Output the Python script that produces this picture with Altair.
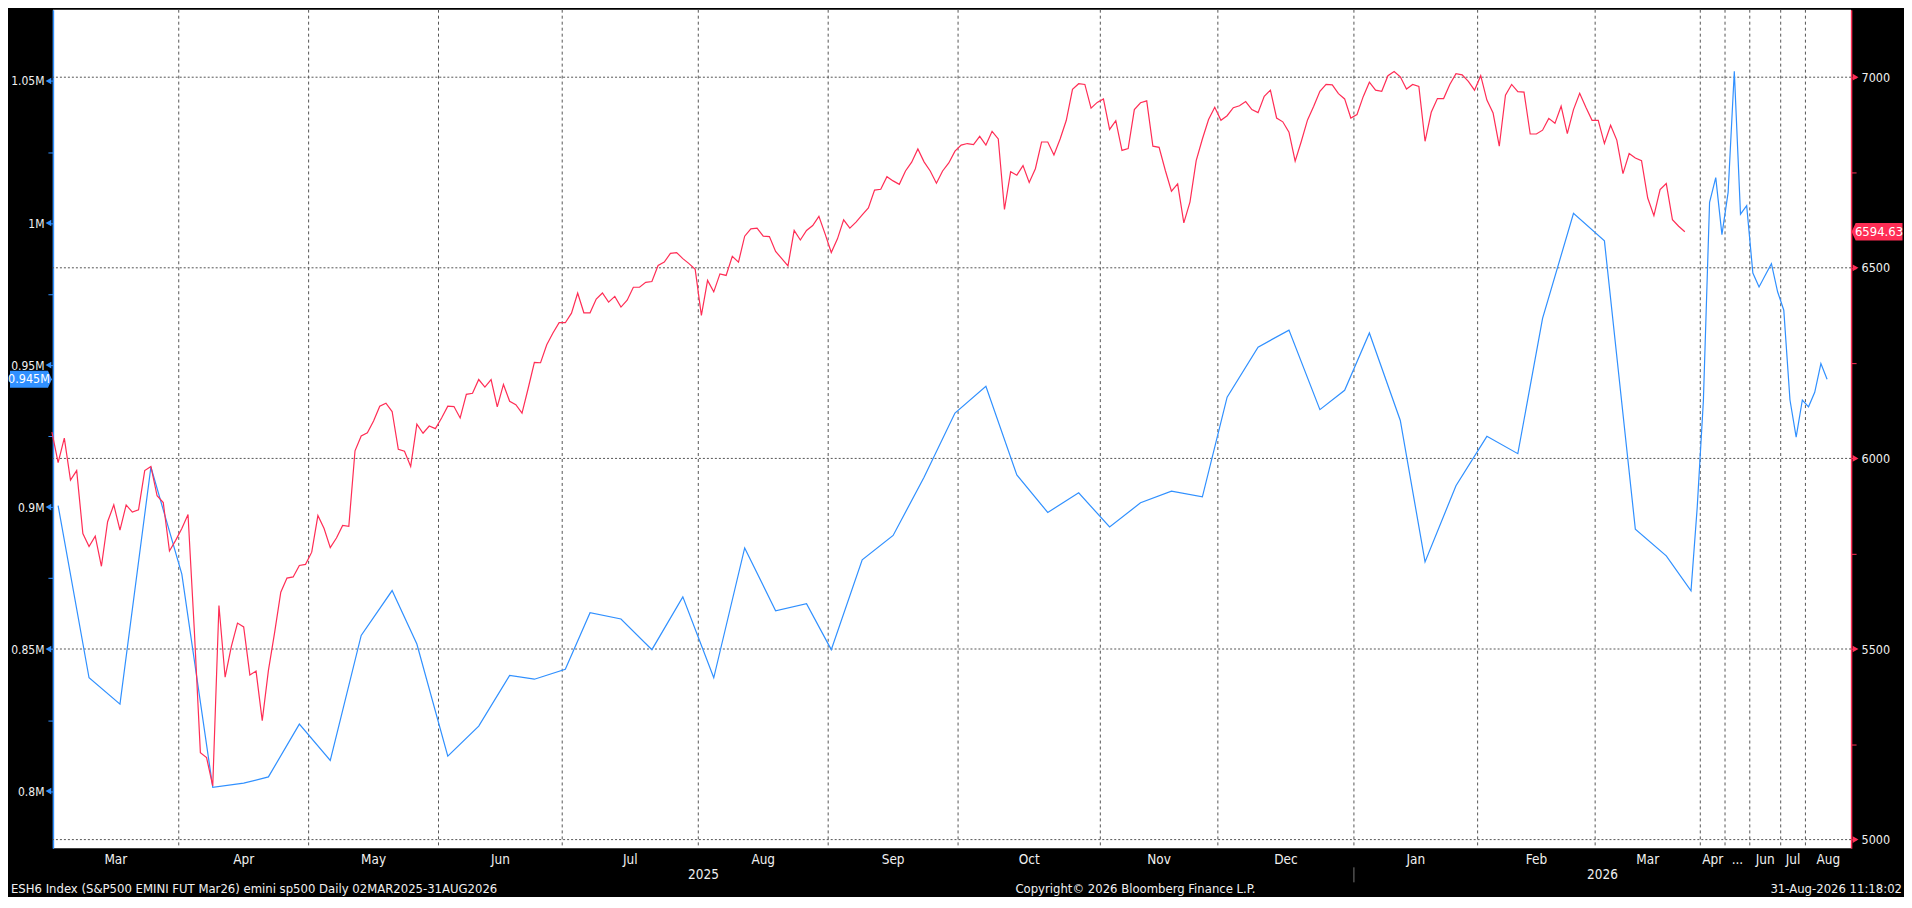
import altair as alt
import pandas as pd

# ---------------- data ----------------
# ESH6 daily closes, one value per trading day (index 0 = 03 Mar 2025)
red_values = [
    6069, 5989, 6053, 5943, 5968, 5803, 5769, 5796, 5717, 5834,
    5878, 5812, 5878, 5859, 5865, 5968, 5979, 5902, 5884, 5757,
    5785, 5816, 5853, 5556, 5228, 5215, 5141, 5614, 5426, 5506,
    5568, 5558, 5432, 5442, 5312, 5444, 5543, 5649, 5686, 5689,
    5719, 5722, 5754, 5850, 5816, 5766, 5791, 5824, 5822, 6020,
    6059, 6067, 6098, 6137, 6145, 6123, 6024, 6019, 5979, 6090,
    6066, 6085, 6078, 6106, 6137, 6136, 6106, 6168, 6171, 6207,
    6187, 6207, 6135, 6194, 6150, 6141, 6119, 6184, 6252, 6251,
    6298, 6329, 6356, 6356, 6381, 6434, 6382, 6382, 6418, 6434,
    6410, 6425, 6397, 6415, 6449, 6449, 6462, 6464, 6506, 6515,
    6538, 6540, 6524, 6511, 6496, 6375, 6467, 6437, 6484, 6480,
    6530, 6515, 6583, 6602, 6604, 6583, 6582, 6543, 6524, 6505,
    6598, 6573, 6598, 6611, 6635, 6589, 6540, 6576, 6626, 6604,
    6620, 6639, 6657, 6704, 6706, 6739, 6728, 6719, 6754, 6777,
    6812, 6778, 6754, 6722, 6754, 6775, 6806, 6822, 6826, 6823,
    6845, 6822, 6858, 6838, 6653, 6752, 6743, 6768, 6724, 6760,
    6830, 6830, 6796, 6838, 6887, 6968, 6983, 6981, 6919, 6934,
    6943, 6863, 6886, 6808, 6813, 6915, 6933, 6938, 6819, 6816,
    6756, 6701, 6720, 6618, 6673, 6781, 6838, 6889, 6921, 6887,
    6899, 6920, 6925, 6936, 6915, 6907, 6950, 6966, 6893, 6883,
    6856, 6780, 6832, 6888, 6924, 6963, 6981, 6980, 6957, 6943,
    6893, 6902, 6949, 6987, 6966, 6963, 7004, 7015, 7001, 6969,
    6981, 6976, 6832, 6908, 6944, 6944, 6981, 7009, 7006, 6989,
    6966, 7004, 6940, 6906, 6819, 6953, 6981, 6962, 6961, 6851,
    6851, 6861, 6892, 6879, 6924, 6852, 6915, 6958, 6921, 6887,
    6887, 6826, 6874, 6835, 6747, 6800, 6788, 6781, 6683, 6637,
    6705, 6721, 6626, 6609, 6594.63,
]

# weekly series (slot on the day axis, value)
blue_slots = [
    1, 6, 11, 16, 21, 26, 31, 35, 40, 45, 50, 55, 59, 64, 69, 74, 78, 83,
    87, 92, 97, 102, 107, 112, 117, 122, 126, 131, 136, 141, 146, 151, 156,
    161, 166, 171, 176, 181, 186, 190, 195, 200, 205, 209, 213, 218, 222,
    227, 232, 237, 241, 246, 251, 256, 261, 265, 266, 267, 268, 269, 270,
    271, 272, 273, 274, 275, 276, 277, 278, 279, 280, 281, 282, 283, 284,
    285, 286, 287,
]
blue_values = [
    900500, 839900, 830600, 914100, 876400, 801300, 802800, 805000, 823600,
    810800, 854800, 870600, 851800, 812300, 822900, 840700, 839400, 842900,
    862800, 860600, 849800, 868400, 839900, 885600, 863500, 866000, 849800,
    881400, 890000, 910500, 933100, 942500, 911300, 898100, 905000, 893000,
    901500, 905600, 903600, 938700, 956300, 962300, 934300, 941100, 961300,
    930500, 880700, 907500, 924900, 918800, 966400, 1003400, 993700, 892200,
    882800, 870500, 899800, 937400, 1007300, 1016000, 995900, 1010800,
    1053400, 1003100, 1006100, 982400, 977500, 981600, 985700, 975800,
    969300, 937700, 924600, 937700, 935300, 940400, 950500, 945000,
]

month_names = ["Mar", "Apr", "May", "Jun", "Jul", "Aug", "Sep", "Oct", "Nov",
               "Dec", "Jan", "Feb", "Mar", "Apr", "...", "Jun", "Jul", "Aug"]
month_starts = [0, 21, 42, 63, 83, 105, 126, 147, 170, 189, 211, 231, 250,
                267, 271, 275, 280, 284]
year_names = ["2025", "2026"]
year_starts = [0, 211]
x_domain = [0.16, 290.88]

left_ticks = list(range(800000, 1050001, 25000))
right_ticks = list(range(5000, 7001, 250))
left_major = list(range(800000, 1050001, 50000))
right_major = list(range(5000, 7001, 500))

footer_left = "ESH6 Index (S&P500 EMINI FUT  Mar26) emini sp500 Daily 02MAR2025-31AUG2026"
footer_center = "Copyright\u00a9 2026 Bloomberg Finance L.P."
footer_right = "31-Aug-2026 11:18:02"

# ---------------- style ----------------
W, H = 1801, 840
RED = "#ff2d55"
BLUE = "#3090ff"
TXT = "#f0f0f0"
GRID = "#555555"
FONT = "Liberation Sans Narrow, DejaVu Sans Condensed, Roboto, sans-serif"

red_df = pd.DataFrame({"slot": list(range(len(red_values))), "v": red_values})
blue_df = pd.DataFrame({"slot": blue_slots, "v": blue_values})

bounds = [s - 0.5 for s in month_starts[1:]]
edges = [x_domain[0]] + bounds + [x_domain[1]]
month_df = pd.DataFrame({
    "name": month_names,
    "pos": [(edges[i] + edges[i + 1]) / 2 for i in range(len(month_names))],
})
yedges = [x_domain[0], year_starts[1] - 0.5, x_domain[1]]
year_df = pd.DataFrame({
    "name": year_names,
    "pos": [(yedges[i] + yedges[i + 1]) / 2 for i in range(2)],
})
sep_df = pd.DataFrame({"pos": [year_starts[1] - 0.5]})
vgrid_df = pd.DataFrame({"b": bounds})
hgrid_df = pd.DataFrame({"v": right_major})


def xs():
    return alt.Scale(domain=x_domain, nice=False, zero=False)


def yl():
    return alt.Scale(domain=[779842, 1075097], nice=False, zero=False)


def yr():
    return alt.Scale(domain=[4977, 7177.1], nice=False, zero=False)


xaxis = alt.Axis(orient="bottom", values=bounds, labels=False, title=None,
                 tickColor=RED, tickSize=4, tickWidth=1,
                 domainColor=RED, domainWidth=1.5, grid=False)

left_axis = alt.Axis(
    orient="left", values=left_ticks, title=None,
    labelExpr="datum.value % 50000 === 0 ? format(datum.value / 1000000, '.3~g') + 'M' : ''",
    tickColor=BLUE, tickSize=5, tickWidth=1, domainColor=BLUE, domainWidth=1.5,
    labelColor=TXT, labelFontSize=12, labelFont=FONT, labelPadding=4,
    labelOverlap=False, labelFlush=False, labelBound=False, grid=False)

right_axis = alt.Axis(
    orient="right", values=right_ticks, title=None,
    labelExpr="datum.value % 500 === 0 ? '' + datum.value : ''",
    tickColor=RED, tickSize=5, tickWidth=1, domainColor=RED, domainWidth=1.5,
    labelColor=TXT, labelFontSize=12.5, labelFont=FONT, labelPadding=5,
    labelOverlap=False, labelFlush=False, labelBound=False, grid=False)

# ---------------- grids ----------------
vgrid = alt.Chart(vgrid_df).mark_rule(color=GRID, strokeWidth=1, strokeDash=[3, 3]).encode(
    x=alt.X("b:Q", scale=xs(), axis=None))
hgrid = alt.Chart(hgrid_df).mark_rule(color=GRID, strokeWidth=1, strokeDash=[2, 2]).encode(
    y=alt.Y("v:Q", scale=yr(), axis=None))

# ---------------- blue (left axis) ----------------
blue_line = alt.Chart(blue_df).mark_line(color=BLUE, strokeWidth=1.2).encode(
    x=alt.X("slot:Q", scale=xs(), axis=xaxis),
    y=alt.Y("v:Q", scale=yl(), axis=left_axis),
)
blue_tri = alt.Chart(pd.DataFrame({"v": left_major})).mark_point(
    shape="triangle-left", filled=True, size=45, color=BLUE, opacity=1, strokeWidth=0
).encode(x=alt.value(-4.5), y=alt.Y("v:Q", scale=yl(), axis=None))

blue_last = blue_df.tail(1)
blue_tag = alt.Chart(blue_last).mark_point(
    shape="M-1,-0.4L0.81,-0.4L1,0L0.81,0.4L-1,0.4Z", filled=True, size=1764,
    color=BLUE, opacity=1, strokeWidth=0
).encode(x=alt.value(-22), y=alt.Y("v:Q", scale=yl(), axis=None))
blue_tag_txt = alt.Chart(blue_last).transform_calculate(
    lab="format(datum.v / 1000000, '.3f') + 'M'"
).mark_text(color="white", fontSize=12.5, font=FONT, align="center", baseline="middle").encode(
    x=alt.value(-24), y=alt.Y("v:Q", scale=yl(), axis=None), text="lab:N")

# ---------------- red (right axis) ----------------
red_line = alt.Chart(red_df).mark_line(color=RED, strokeWidth=1.2).encode(
    x=alt.X("slot:Q", scale=xs(), axis=None),
    y=alt.Y("v:Q", scale=yr(), axis=right_axis),
)
red_tri = alt.Chart(pd.DataFrame({"v": right_major})).mark_point(
    shape="triangle-right", filled=True, size=45, color=RED, opacity=1, strokeWidth=0
).encode(x=alt.value(W + 4.5), y=alt.Y("v:Q", scale=yr(), axis=None))

red_last = red_df.tail(1)
red_tag = alt.Chart(red_last).mark_point(
    shape="M-1,0L-0.84,-0.34L1,-0.34L1,0.34L-0.84,0.34Z", filled=True, size=2601,
    color=RED, opacity=1, strokeWidth=0
).encode(x=alt.value(W + 26), y=alt.Y("v:Q", scale=yr(), axis=None))
red_tag_txt = alt.Chart(red_last).transform_calculate(
    lab="format(datum.v, '.2f')"
).mark_text(color="white", fontSize=13, font=FONT, align="center", baseline="middle").encode(
    x=alt.value(W + 28), y=alt.Y("v:Q", scale=yr(), axis=None), text="lab:N")

# ---------------- bottom texts ----------------
months = alt.Chart(month_df).mark_text(
    color=TXT, fontSize=13.5, font=FONT, align="center", baseline="middle"
).encode(x=alt.X("pos:Q", scale=xs(), axis=None), y=alt.value(H + 12), text="name:N")
years = alt.Chart(year_df).mark_text(
    color=TXT, fontSize=13.5, font=FONT, align="center", baseline="middle"
).encode(x=alt.X("pos:Q", scale=xs(), axis=None), y=alt.value(H + 27), text="name:N")
sep = alt.Chart(sep_df).mark_rule(color="#777777", strokeWidth=1).encode(
    x=alt.X("pos:Q", scale=xs(), axis=None), y=alt.value(H + 19), y2=alt.value(H + 34))


def footer(txt, xpos, align):
    return alt.Chart(pd.DataFrame({"t": [txt]})).mark_text(
        color=TXT, fontSize=13, font=FONT, align=align, baseline="middle"
    ).encode(x=alt.value(xpos), y=alt.value(H + 41), text="t:N")


chart = alt.layer(
    vgrid, hgrid,
    blue_line, blue_tri, blue_tag, blue_tag_txt,
    red_line, red_tri, red_tag, red_tag_txt,
    months, years, sep,
    footer(footer_left, -42, "left"),
    footer(footer_center, 964, "left"),
    footer(footer_right, W + 51, "right"),
).resolve_scale(y="independent").properties(
    width=W, height=H, padding=0, background="black",
).configure_view(fill="white", stroke=None)

chart.save("out.html", embed_options={"renderer": "svg", "actions": False})
